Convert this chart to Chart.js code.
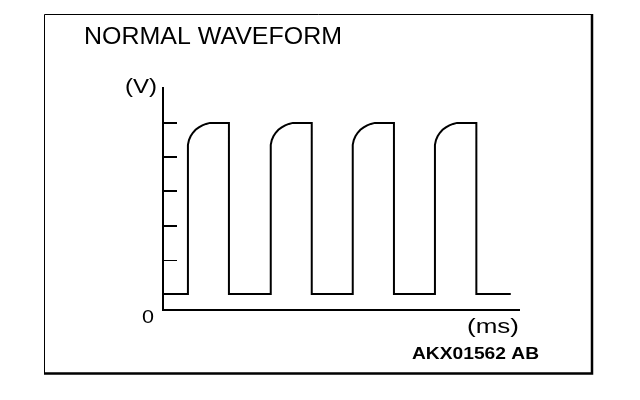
<!DOCTYPE html>
<html>
<head>
<meta charset="utf-8">
<script src="https://cdn.jsdelivr.net/npm/chart.js@4"></script>
<style>
  html, body { margin: 0; padding: 0; background: #fff; }
  #wrap { width: 640px; height: 400px; }
</style>
</head>
<body>
<div id="wrap"><canvas id="c" width="640" height="400"></canvas></div>
<script>
// waveform data (time in ms, voltage in V)
const riseTimes = [1.21, 5.23, 9.21, 13.2];
const fallTimes = [3.2, 7.22, 11.21, 15.21];
const lowLevel = 0;
const highLevel = 5;
const traceEnd = 16.88;
// rounded top-left corner of each pulse: time after the rise, voltage
const cornerDt = [0, 0.05, 0.13, 0.24, 0.37, 0.53, 0.70, 0.88, 1.07];
const cornerV = [4.36, 4.5, 4.61, 4.71, 4.8, 4.87, 4.93, 4.97, 5.0];
// inward tick marks on the voltage axis
const voltTicks = [1, 2, 3, 4, 5];

// build the trace from the arrays above
const trace = [{ x: 0, y: lowLevel }];
riseTimes.forEach((t, i) => {
    trace.push({ x: t, y: lowLevel });
    cornerDt.forEach((dt, k) => trace.push({ x: t + dt, y: cornerV[k] }));
    trace.push({ x: fallTimes[i], y: highLevel });
    trace.push({ x: fallTimes[i], y: lowLevel });
});
trace.push({ x: traceEnd, y: lowLevel });

// text drawn with a horizontal stretch to match the picture
function stretchText(ctx, text, x, y, font, width) {
    ctx.save();
    ctx.font = font;
    ctx.fillStyle = '#000';
    ctx.textBaseline = 'alphabetic';
    const w = ctx.measureText(text).width;
    ctx.translate(x, y);
    ctx.scale(width / w, 1);
    ctx.fillText(text, 0, 0);
    ctx.restore();
}

const decor = {
    id: 'decor',
    beforeDraw(chart) {
        const ctx = chart.ctx;
        ctx.save();
        ctx.fillStyle = '#fff';
        ctx.fillRect(0, 0, chart.width, chart.height);
        ctx.strokeStyle = '#000';
        // frame: thin top/left, thick right/bottom
        ctx.lineWidth = 1;
        ctx.beginPath();
        ctx.moveTo(44.5, 373); ctx.lineTo(44.5, 14.5); ctx.lineTo(593, 14.5);
        ctx.stroke();
        ctx.lineWidth = 2.5;
        ctx.beginPath();
        ctx.moveTo(592, 14); ctx.lineTo(592, 373.5); ctx.lineTo(44, 373.5);
        ctx.stroke();
        ctx.restore();
    },
    afterDraw(chart) {
        const ctx = chart.ctx;
        const y = chart.scales.y;
        const left = chart.chartArea.left;
        ctx.save();
        ctx.strokeStyle = '#000';
        voltTicks.forEach(v => {
            const py = Math.round(y.getPixelForValue(v));
            ctx.lineWidth = v === 1 ? 1 : 2;
            ctx.beginPath();
            ctx.moveTo(left, v === 1 ? py + 0.5 : py);
            ctx.lineTo(left + 14, v === 1 ? py + 0.5 : py);
            ctx.stroke();
        });
        ctx.restore();
        stretchText(ctx, 'NORMAL WAVEFORM', 84, 44, '24px "Liberation Sans", Arial, sans-serif', 258);
        stretchText(ctx, '(V)', 125, 93, '21px "Liberation Sans", Arial, sans-serif', 32);
        stretchText(ctx, '0', 142, 323, '18px "Liberation Sans", Arial, sans-serif', 12);
        stretchText(ctx, '(ms)', 467, 332.5, '21px "Liberation Sans", Arial, sans-serif', 52);
        stretchText(ctx, 'AKX01562 AB', 412, 359, 'bold 17px "Liberation Sans", Arial, sans-serif', 127);
    }
};

new Chart(document.getElementById('c'), {
    type: 'line',
    data: {
        datasets: [{
            data: trace,
            borderColor: '#000',
            borderWidth: 2,
            pointRadius: 0,
            tension: 0,
            fill: false,
            borderJoinStyle: 'miter'
        }]
    },
    options: {
        responsive: false,
        animation: false,
        events: [],
        layout: { padding: { left: 163, right: 121, top: 88, bottom: 90 } },
        plugins: { legend: { display: false }, tooltip: { enabled: false } },
        scales: {
            x: {
                type: 'linear', min: 0, max: 17.28,
                grid: { display: false },
                ticks: { display: false },
                border: { display: true, color: '#000', width: 2 },
                afterFit: s => { s.height = 0; }
            },
            y: {
                type: 'linear', min: -0.47, max: 6.02,
                grid: { display: false },
                ticks: { display: false },
                border: { display: true, color: '#000', width: 2 },
                afterFit: s => { s.width = 0; }
            }
        }
    },
    plugins: [decor]
});
</script>
</body>
</html>
